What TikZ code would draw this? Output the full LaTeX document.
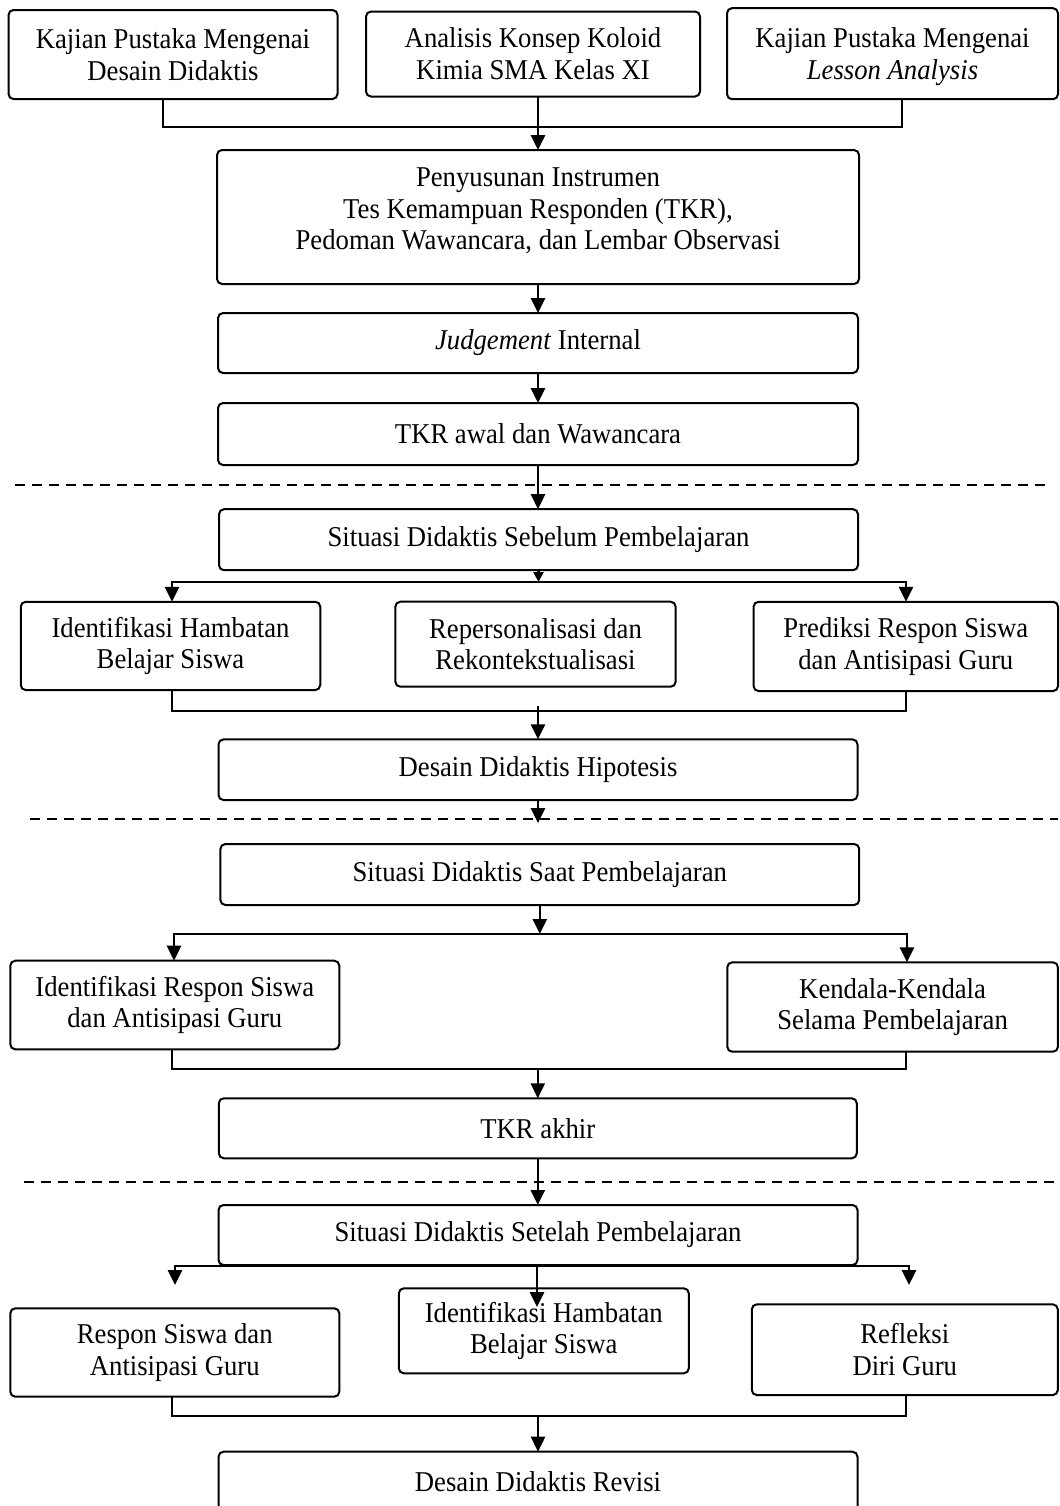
\documentclass[tikz,border=0pt]{standalone}
\usepackage{fontspec}
\setmainfont{Liberation Serif}[FakeStretch=0.93]
\usetikzlibrary{arrows.meta}
\tikzset{
  boxfont/.style={font=\fontsize{14.35}{15.85}\selectfont},
  box/.style={draw, line width=1pt, rounded corners=2.5pt, inner sep=0pt, outer sep=0pt, align=center, boxfont},
  txt/.style={inner sep=0pt, align=center, boxfont},
  sz/.style 2 args={minimum width=#1*0.5pt, minimum height=#2*0.5pt},
  arr/.style={line width=1.3pt, -{Triangle[width=7pt,length=7.5pt]}},
  arrs/.style={line width=1.3pt, -{Triangle[width=5pt,length=5pt]}},
  tips/.style={line width=1.3pt, line join=miter, {Triangle[width=7pt,length=7.5pt]}-{Triangle[width=7pt,length=7.5pt]}},
  link/.style={line width=0.85pt, line join=miter},
  sep/.style={line width=0.75pt, dash pattern=on 5pt off 3.5pt},
}
\begin{document}
\begin{tikzpicture}[x=0.5pt,y=-0.5pt]
\useasboundingbox (0,0) rectangle (1060,1506);
\clip (0,0) rectangle (1060,1506);

% separators
\coordinate (h1a) at (15,485);   \coordinate (h1b) at (1045,485);
\coordinate (h2a) at (30,819);   \coordinate (h2b) at (1058,819);
\coordinate (h3a) at (24,1182);  \coordinate (h3b) at (1054,1182);
\draw[sep] (h1a) -- (h1b);
\draw[sep] (h2a) -- (h2b);
\draw[sep] (h3a) -- (h3b);

% top row
\node[box,sz={329}{89}] (a1) at (173,54.5) {Kajian Pustaka Mengenai\\Desain Didaktis};
\node[box,sz={334}{85}] (a2) at (533,54) {Analisis Konsep Koloid\\Kimia SMA Kelas XI};
\node[box,sz={331}{91},text depth=0pt] (a3) at (892.5,53.7) {Kajian Pustaka Mengenai\\\textit{Lesson Analysis}};

\node[box,sz={642}{134}] (b1) at (538,217) {};
\node[txt] (b1t) at (538,211) {Penyusunan Instrumen\\Tes Kemampuan Responden (TKR),\\Pedoman Wawancara, dan Lembar Observasi};
\node[box,sz={640}{60}] (b2) at (538,343) {\textit{Judgement} Internal};
\node[box,sz={640}{62}] (b3) at (538,434) {TKR awal dan Wawancara};

\node[box,sz={639}{61}] (c1) at (538.5,539.7) {Situasi Didaktis Sebelum Pembelajaran};
\node[box,sz={299.5}{88.3}] (d1) at (170.5,645.9) {Identifikasi Hambatan\\Belajar Siswa};
\node[box,sz={280.3}{85}] (d2) at (535.5,644.2) {Repersonalisasi dan\\Rekontekstualisasi};
\node[box,sz={304.5}{89.3}] (d3) at (905.8,646.4) {Prediksi Respon Siswa\\dan Antisipasi Guru};
\node[box,sz={639}{60.7}] (e1) at (538,769.7) {Desain Didaktis Hipotesis};

\node[box,sz={638.8}{61}] (c2) at (539.8,874.5) {Situasi Didaktis Saat Pembelajaran};
\node[box,sz={329}{88.6}] (d4) at (174.8,1005) {Identifikasi Respon Siswa\\dan Antisipasi Guru};
\node[box,sz={330.7}{89.4}] (d5) at (892.6,1007) {Kendala-Kendala\\Selama Pembelajaran};
\node[box,sz={638}{60}] (f1) at (537.8,1128.3) {TKR akhir};

\node[box,sz={639}{60}] (c3) at (538,1235) {Situasi Didaktis Setelah Pembelajaran};
\node[box,sz={329}{88.4}] (d6) at (174.8,1352.5) {Respon Siswa dan\\Antisipasi Guru};
\node[box,sz={290}{85}] (d7) at (543.8,1330.8) {Identifikasi Hambatan\\Belajar Siswa};
\node[box,sz={306}{90.7}] (d8) at (904.8,1349.7) {Refleksi\\Diri Guru};
\node[box,sz={639}{60.6}] (g1) at (538,1482) {Desain Didaktis Revisi};

% top connectors
\coordinate (j1) at (163,127); \coordinate (j2) at (902,127);
\draw[link] (a1.south -| j1) -- (j1) -- (j2) -- (a3.south -| j2);
\draw[arr] (a2.south -| b1.north) -- (b1.north);
\draw[arr] (b1.south) -- (b2.north);
\draw[arr] (b2.south) -- (b3.north);
\draw[arr] (b3.south) -- (b3.south |- c1.north);

% split after c1
\coordinate (s1l) at (172,582); \coordinate (s1r) at (906,582);
\draw[arrs] (c1.south) -- (c1.south |- s1l);
\draw[tips] (s1l |- d1.north) -- (s1l) -- (s1r) -- (s1r |- d3.north);
% merge to e1
\coordinate (m1l) at (172,711); \coordinate (m1r) at (906,711);
\coordinate (m1c) at (538,706);
\draw[link] (d1.south -| m1l) -- (m1l) -- (m1r) -- (d3.south -| m1r);
\draw[arr] (m1c) -- (m1c |- e1.north);
\coordinate (e1end) at (538,823);
\draw[arr] (e1.south) -- (e1end);

% split after c2
\coordinate (s2l) at (174,934); \coordinate (s2r) at (907,934);
\draw[arr] (c2.south) -- (c2.south |- s2l);
\draw[tips] (s2l |- d4.north) -- (s2l) -- (s2r) -- (s2r |- d5.north);
% merge to f1
\coordinate (m2l) at (172,1069); \coordinate (m2r) at (906,1069);
\draw[link] (d4.south -| m2l) -- (m2l) -- (m2r) -- (d5.south -| m2r);
\draw[arr] (m2l -| f1.north) -- (f1.north);
\draw[arr] (f1.south) -- (f1.south |- c3.north);

% split after c3
\coordinate (s3l) at (175,1266); \coordinate (s3r) at (909,1266);
\coordinate (t3l) at (175,1285); \coordinate (t3r) at (909,1285);
\coordinate (t3c) at (537,1307);
\draw[tips] (t3l) -- (s3l) -- (s3r) -- (t3r);
\draw[arr] (s3l -| t3c) -- (t3c);
% merge to g1
\coordinate (m3l) at (172,1416); \coordinate (m3r) at (906,1416);
\draw[link] (d6.south -| m3l) -- (m3l) -- (m3r) -- (d8.south -| m3r);
\draw[arr] (m3l -| g1.north) -- (g1.north);
\end{tikzpicture}
\end{document}
